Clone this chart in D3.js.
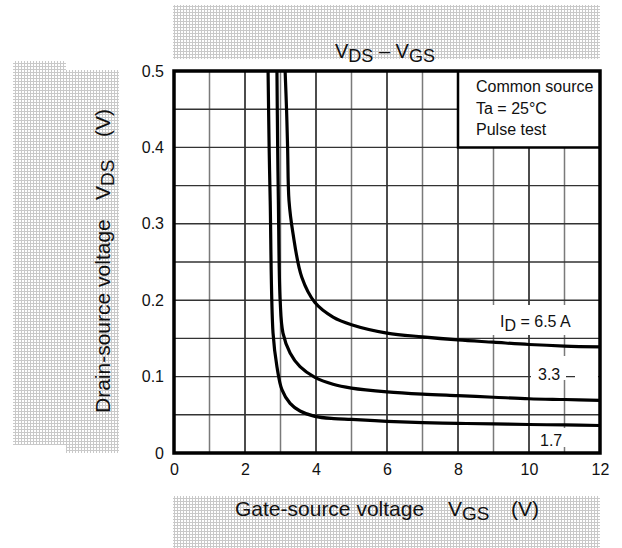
<!DOCTYPE html>
<html>
<head>
<meta charset="utf-8">
<script src="https://cdn.jsdelivr.net/npm/d3@7"></script>
<style>
  html, body { margin: 0; padding: 0; background: #fff; }
  svg { display: block; font-family: "Liberation Sans", Arial, Helvetica, sans-serif; }
</style>
</head>
<body>
<svg id="chart" width="622" height="548"></svg>
<script>
// ---- data ----
const xTicks = [0, 2, 4, 6, 8, 10, 12];
const yTicks = [0, 0.1, 0.2, 0.3, 0.4, 0.5];
const seriesNames = ["6.5", "3.3", "1.7"];
const curve65 = [[3.13,0.5],[3.17,0.45],[3.2,0.4],[3.24,0.33],[3.35,0.288],[3.6,0.23],[3.97,0.197],[4.48,0.178],[5.0,0.168],[6,0.157],[7,0.152],[8,0.148],[9,0.145],[10,0.142],[11,0.14],[12,0.139]];
const curve33 = [[2.9,0.5],[2.92,0.4],[2.94,0.33],[2.99,0.2],[3.07,0.157],[3.27,0.131],[3.55,0.113],[3.97,0.099],[4.48,0.09],[5,0.085],[6,0.08],[7,0.077],[8,0.075],[9,0.073],[10,0.071],[11,0.07],[12,0.069]];
const curve17 = [[2.65,0.5],[2.68,0.4],[2.71,0.33],[2.79,0.157],[2.9,0.113],[3.04,0.083],[3.27,0.065],[3.55,0.055],[3.97,0.048],[4.5,0.045],[5,0.044],[6,0.0415],[7,0.0398],[8,0.0388],[9,0.038],[10,0.0373],[11,0.0367],[12,0.036]];
const legendLines = ["Common source", "Ta = 25°C", "Pulse test"];

// ---- layout ----
const svg = d3.select("#chart");
const x = d3.scaleLinear().domain([0, 12]).range([174, 600]);
const y = d3.scaleLinear().domain([0, 0.5]).range([453, 71]);

// hatch pattern
const defs = svg.append("defs");
const pat = defs.append("pattern").attr("id", "hatch").attr("width", 3).attr("height", 3)
  .attr("patternUnits", "userSpaceOnUse");
pat.append("rect").attr("width", 3).attr("height", 3).attr("fill", "#fff");
pat.append("path").attr("d", "M0,0.5H3M0.5,0V3").attr("stroke", "#c9c9c9").attr("stroke-width", 1);
defs.append("clipPath").attr("id", "plotclip").append("rect")
  .attr("x", x(0)).attr("y", y(0.5)).attr("width", x(12) - x(0)).attr("height", y(0) - y(0.5));

// hatched label backgrounds
svg.append("rect").attr("x", 173).attr("y", 5).attr("width", 427).attr("height", 54).attr("fill", "url(#hatch)");
svg.append("rect").attr("x", 13).attr("y", 61).attr("width", 53).attr("height", 384).attr("fill", "url(#hatch)");
svg.append("rect").attr("x", 66).attr("y", 70).attr("width", 53).attr("height", 383).attr("fill", "url(#hatch)");
svg.append("rect").attr("x", 173).attr("y", 496).attr("width", 427).attr("height", 52).attr("fill", "url(#hatch)");

// plot background
svg.append("rect").attr("x", x(0)).attr("y", y(0.5)).attr("width", x(12) - x(0)).attr("height", y(0) - y(0.5)).attr("fill", "#fff");

// grid
const grid = svg.append("g");
grid.selectAll("line.v").data(x.ticks(12)).join("line")
  .attr("x1", d => x(d)).attr("x2", d => x(d)).attr("y1", y(0.5)).attr("y2", y(0))
  .attr("stroke", d => (d % 2 === 0 ? "#111" : "#7a7a7a")).attr("stroke-width", 1.5);
grid.selectAll("line.h").data(y.ticks(10)).join("line")
  .attr("x1", x(0)).attr("x2", x(12)).attr("y1", d => y(d)).attr("y2", d => y(d))
  .attr("stroke", "#333").attr("stroke-width", 1.4);

// legend box
svg.append("rect").attr("x", x(8)).attr("y", y(0.5)).attr("width", x(12) - x(8)).attr("height", y(0.4) - y(0.5))
  .attr("fill", "#fff");
svg.append("path").attr("d", `M${x(8)},${y(0.5)}V${y(0.4)}H${x(12)}`).attr("fill", "none")
  .attr("stroke", "#000").attr("stroke-width", 2.5);
svg.append("g").selectAll("text").data(legendLines).join("text")
  .attr("x", 476).attr("y", (d, i) => 92 + i * 21.5)
  .attr("font-size", 16).attr("fill", "#111").text(d => d);

// label boxes (white, hide grid)
const boxes = [[468, 305, 130, 30], [531, 356, 35, 24], [575, 356, 23, 24], [532, 428, 38, 19]];
svg.append("g").selectAll("rect").data(boxes).join("rect")
  .attr("x", d => d[0]).attr("y", d => d[1]).attr("width", d => d[2]).attr("height", d => d[3]).attr("fill", "#fff");

// curves
const line = d3.line().x(d => x(d[0])).y(d => y(d[1])).curve(d3.curveCatmullRom.alpha(0.5));
svg.append("g").attr("clip-path", "url(#plotclip)").selectAll("path")
  .data([curve65, curve33, curve17]).join("path")
  .attr("d", line).attr("fill", "none").attr("stroke", "#000").attr("stroke-width", 3.2)
  .attr("stroke-linejoin", "round");

// border
svg.append("rect").attr("x", x(0)).attr("y", y(0.5)).attr("width", x(12) - x(0)).attr("height", y(0) - y(0.5))
  .attr("fill", "none").attr("stroke", "#000").attr("stroke-width", 3.5);

// axes
const xAxis = svg.append("g").attr("transform", `translate(0,${y(0)})`)
  .call(d3.axisBottom(x).tickValues(xTicks).tickSize(0).tickPadding(11).tickFormat(d3.format("d")));
const yAxis = svg.append("g").attr("transform", `translate(${x(0)},0)`)
  .call(d3.axisLeft(y).tickValues(yTicks).tickSize(0).tickPadding(10)
    .tickFormat(d => (d === 0 ? "0" : d3.format(".1f")(d))));
[xAxis, yAxis].forEach(a => {
  a.select(".domain").remove();
  a.selectAll("text").attr("font-size", 16).attr("fill", "#111")
    .attr("font-family", "'Liberation Sans', Arial, sans-serif");
});

// curve labels
const lab = svg.append("g").attr("font-size", 16).attr("fill", "#111");
const t65 = lab.append("text").attr("x", 500).attr("y", 327);
t65.append("tspan").text("I");
t65.append("tspan").attr("dy", 4).text("D");
t65.append("tspan").attr("dy", -4).text(" = " + seriesNames[0] + " A");
lab.append("text").attr("x", 538).attr("y", 380).text(seriesNames[1]);
lab.append("text").attr("x", 540).attr("y", 446).text(seriesNames[2]);

// title
const title = svg.append("text").attr("x", 385).attr("y", 58).attr("text-anchor", "middle")
  .attr("font-size", 20).attr("fill", "#111");
title.append("tspan").text("V");
title.append("tspan").attr("dy", 4).attr("font-size", 18).text("DS");
title.append("tspan").attr("dy", -4).text(" – V");
title.append("tspan").attr("dy", 4).attr("font-size", 18).text("GS");

// x axis title
const xt = svg.append("text").attr("x", 235).attr("y", 516).attr("font-size", 21).attr("fill", "#111");
xt.append("tspan").text("Gate-source voltage");
xt.append("tspan").attr("x", 448).text("V");
xt.append("tspan").attr("dy", 4).attr("font-size", 19).text("GS");
xt.append("tspan").attr("x", 511).attr("dy", -4).text("(V)");

// y axis title
const yt = svg.append("text").attr("transform", "translate(110,413) rotate(-90)")
  .attr("font-size", 21).attr("fill", "#111");
yt.append("tspan").attr("x", 0).text("Drain-source voltage");
yt.append("tspan").attr("x", 213).text("V");
yt.append("tspan").attr("dy", 4).attr("font-size", 19).text("DS");
yt.append("tspan").attr("x", 276).attr("dy", -4).text("(V)");
</script>
</body>
</html>
